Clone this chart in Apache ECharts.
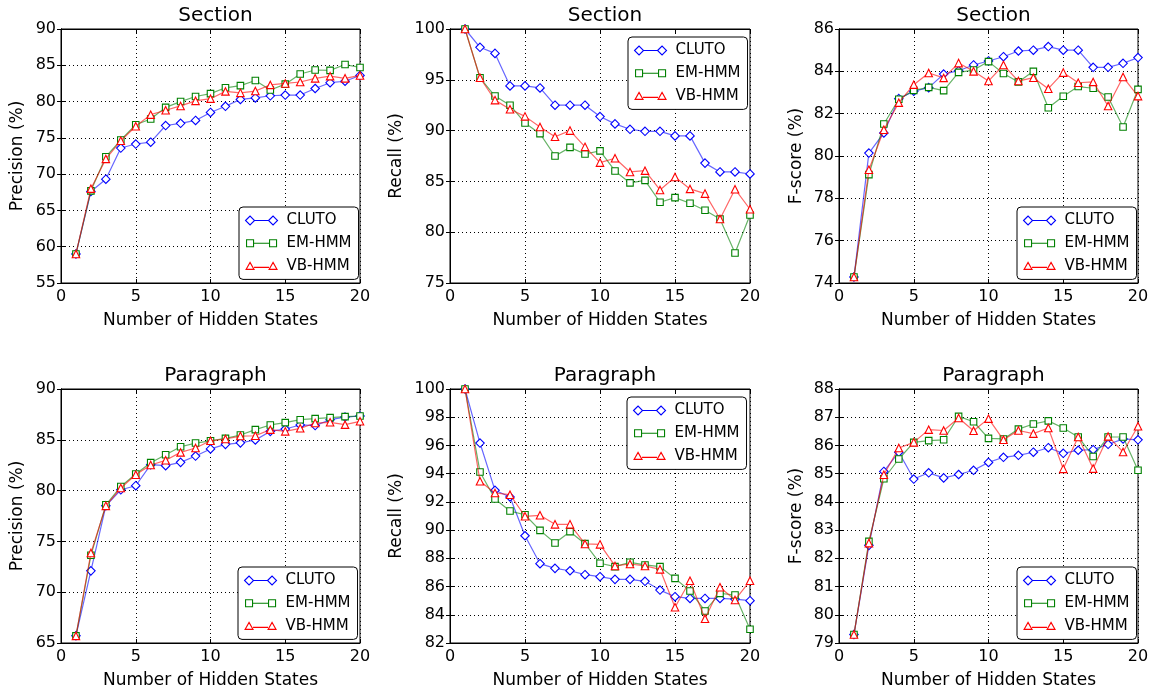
<!DOCTYPE html>
<html>
<head>
<meta charset="utf-8">
<script src="https://cdn.jsdelivr.net/npm/echarts@6/dist/echarts.min.js"></script>
<style>
html,body{margin:0;padding:0;background:#fff;}
#chart{width:1158px;height:695px;}
</style>
</head>
<body>
<div id="chart"></div>
<script>
const states = [1,2,3,4,5,6,7,8,9,10,11,12,13,14,15,16,17,18,19,20];
const methods = ['CLUTO','EM-HMM','VB-HMM'];
const xTicks = [0,5,10,15,20];

const secPrecCLUTO = [59.0, 67.6, 69.3, 73.6, 74.15, 74.4, 76.7, 77.0, 77.4, 78.5, 79.35, 80.3, 80.5, 80.8, 80.9, 80.9, 81.8, 82.6, 82.8, 83.6];
const secPrecEM    = [59.0, 67.7, 72.4, 74.7, 76.8, 77.6, 79.2, 80.0, 80.7, 81.1, 81.9, 82.2, 82.9, 81.6, 82.4, 83.8, 84.35, 84.3, 85.1, 84.7];
const secPrecVB    = [59.0, 68.0, 72.1, 74.6, 76.6, 78.2, 78.8, 79.4, 80.1, 80.4, 81.4, 81.2, 81.45, 82.3, 82.5, 82.7, 83.2, 83.5, 83.2, 83.6];

const secRecCLUTO = [100, 98.2, 97.6, 94.4, 94.4, 94.2, 92.5, 92.5, 92.5, 91.38, 90.66, 90.13, 89.93, 89.93, 89.48, 89.48, 86.8, 85.93, 85.93, 85.73];
const secRecEM    = [100, 95.2, 93.4, 92.5, 90.75, 89.7, 87.5, 88.35, 87.7, 88.0, 86.03, 84.85, 85.1, 82.95, 83.4, 82.85, 82.16, 81.3, 77.96, 81.7];
const secRecVB    = [100, 95.2, 93.0, 92.1, 91.4, 90.35, 89.4, 90.0, 88.4, 86.85, 87.28, 85.93, 86.06, 84.16, 85.44, 84.26, 83.8, 81.3, 84.23, 82.26];

const secFCLUTO = [74.28, 80.14, 81.09, 82.71, 83.06, 83.23, 83.87, 84.03, 84.3, 84.49, 84.69, 84.96, 85.0, 85.17, 85.0, 85.0, 84.19, 84.19, 84.38, 84.65];
const secFEM    = [74.28, 79.12, 81.51, 82.68, 83.1, 83.24, 83.09, 83.95, 84.06, 84.46, 83.9, 83.5, 84.0, 82.28, 82.82, 83.28, 83.2, 82.79, 81.37, 83.15];
const secFVB    = [74.28, 79.35, 81.24, 82.52, 83.37, 83.92, 83.69, 84.39, 84.0, 83.54, 84.3, 83.54, 83.7, 83.18, 83.94, 83.46, 83.5, 82.36, 83.73, 82.83];

const parPrecCLUTO = [65.72, 72.1, 78.5, 80.08, 80.48, 82.55, 82.45, 82.78, 83.4, 84.1, 84.55, 84.7, 84.98, 85.83, 86.06, 86.46, 86.4, 86.98, 87.24, 87.34];
const parPrecEM    = [65.7, 73.63, 78.6, 80.4, 81.63, 82.75, 83.53, 84.32, 84.68, 84.9, 85.14, 85.47, 86.0, 86.46, 86.69, 86.98, 87.08, 87.18, 87.28, 87.34];
const parPrecVB    = [65.7, 73.86, 78.5, 80.25, 81.56, 82.52, 82.98, 83.76, 84.19, 84.9, 85.08, 85.37, 85.4, 86.0, 85.83, 86.13, 86.65, 86.72, 86.49, 86.82];

const parRecCLUTO = [100, 96.17, 92.82, 92.35, 89.6, 87.62, 87.29, 87.12, 86.84, 86.7, 86.51, 86.51, 86.37, 85.75, 85.28, 85.16, 85.16, 85.16, 85.11, 85.0];
const parRecEM    = [100, 94.12, 92.2, 91.35, 91.09, 89.98, 89.09, 89.89, 89.04, 87.65, 87.41, 87.72, 87.53, 87.41, 86.58, 85.68, 84.27, 85.52, 85.4, 82.97];
const parRecVB    = [100, 93.46, 92.63, 92.51, 90.98, 91.05, 90.41, 90.41, 89.02, 88.99, 87.46, 87.6, 87.46, 87.22, 84.53, 86.41, 83.72, 85.95, 85.05, 86.41];

const parFCLUTO = [79.3, 82.46, 85.08, 85.76, 84.81, 85.03, 84.85, 84.97, 85.12, 85.4, 85.58, 85.65, 85.76, 85.92, 85.72, 85.83, 85.85, 86.04, 86.23, 86.2];
const parFEM    = [79.3, 82.6, 84.82, 85.52, 86.11, 86.17, 86.2, 87.03, 86.84, 86.25, 86.23, 86.58, 86.76, 86.87, 86.62, 86.3, 85.61, 86.3, 86.3, 85.12];
const parFVB    = [79.3, 82.54, 84.96, 85.91, 86.11, 86.56, 86.53, 86.97, 86.52, 86.95, 86.2, 86.53, 86.42, 86.62, 85.17, 86.3, 85.18, 86.32, 85.77, 86.68];

const panelTitles = ['Section','Section','Section','Paragraph','Paragraph','Paragraph'];
const yNames = ['Precision (%)','Recall (%)','F-score (%)','Precision (%)','Recall (%)','F-score (%)'];
const yMin = [55, 75, 74, 65, 82, 79];
const yMax = [90, 100, 86, 90, 100, 88];
const yStep = [5, 5, 2, 5, 2, 1];
const panelData = [
  [secPrecCLUTO, secPrecEM, secPrecVB],
  [secRecCLUTO, secRecEM, secRecVB],
  [secFCLUTO, secFEM, secFVB],
  [parPrecCLUTO, parPrecEM, parPrecVB],
  [parRecCLUTO, parRecEM, parRecVB],
  [parFCLUTO, parFEM, parFVB]
];

// layout
const gridLeft = [61, 450, 839, 61, 450, 839];
const gridTop = [29, 29, 29, 389, 389, 389];
const gridW = [299, 300, 299, 299, 300, 299];
const gridH = 254;
const yNameGap = [35, 45, 34, 35, 45, 34];
const legendPos = [[239,207],[628,37],[1017,207],[238,567],[627,397],[1017,567]];

const FONT = 'DejaVu Sans';
const lineColors = ['rgba(0,0,255,0.6)','rgba(0,128,0,0.6)','rgba(255,0,0,0.6)'];
const edgeColors = ['#0000ff','#008000','#ff0000'];
const symbols = ['diamond','rect','triangle'];
const symbolSizes = [8.5, 6.5, 7.5];
// legend icons: marker - line - marker (box 32 x 9)
const legendIcons = [
  'path://M0 0M32 9M0 4.5L4.5 0L9 4.5L4.5 9ZM9 4.5L23 4.5M23 4.5L27.5 0L32 4.5L27.5 9Z',
  'path://M0 0M32 9M1 1L8 1L8 8L1 8ZM8 4.5L24 4.5M24 1L31 1L31 8L24 8Z',
  'path://M0 0M32 9M0.5 8L4.5 1L8.5 8ZM8.5 6L23.5 6M23.5 8L27.5 1L31.5 8Z'
];

const grids=[], xAxes=[], yAxes=[], series=[], titles=[], legends=[];
for (let p=0;p<6;p++){
  grids.push({left:gridLeft[p], top:gridTop[p], width:gridW[p], height:gridH, show:true, borderColor:'#000', borderWidth:1, backgroundColor:'#fff'});
  titles.push({text:panelTitles[p], left:gridLeft[p]+gridW[p]/2, top:gridTop[p]-28, textAlign:'center',
    textStyle:{fontFamily:FONT, fontSize:20, fontWeight:'normal', color:'#000'}});
  xAxes.push({type:'value', gridIndex:p, min:0, max:20, interval:5, position:'bottom',
    name:'Number of Hidden States', nameLocation:'middle', nameGap:29,
    nameTextStyle:{fontFamily:FONT, fontSize:17, color:'#000'},
    axisLine:{show:true, lineStyle:{color:'#000', width:1}},
    axisTick:{show:true, inside:true, length:4, lineStyle:{color:'#000'}},
    axisLabel:{fontFamily:FONT, fontSize:16, color:'#000', margin:6},
    splitLine:{show:true, lineStyle:{color:'#000', width:1, type:[1,3]}}});
  xAxes.push({type:'value', gridIndex:p, min:0, max:20, interval:5, position:'top',
    axisLine:{show:true, lineStyle:{color:'#000', width:1}},
    axisTick:{show:true, inside:true, length:4, lineStyle:{color:'#000'}},
    axisLabel:{show:false}, splitLine:{show:false}});
  yAxes.push({type:'value', gridIndex:p, min:yMin[p], max:yMax[p], interval:yStep[p], position:'left',
    name:yNames[p], nameLocation:'middle', nameGap:yNameGap[p], nameRotate:90,
    nameTextStyle:{fontFamily:FONT, fontSize:17, color:'#000'},
    axisLine:{show:true, lineStyle:{color:'#000', width:1}},
    axisTick:{show:true, inside:true, length:4, lineStyle:{color:'#000'}},
    axisLabel:{fontFamily:FONT, fontSize:16, color:'#000', margin:5},
    splitLine:{show:true, lineStyle:{color:'#000', width:1, type:[1,3]}}});
  yAxes.push({type:'value', gridIndex:p, min:yMin[p], max:yMax[p], interval:yStep[p], position:'right',
    axisLine:{show:true, lineStyle:{color:'#000', width:1}},
    axisTick:{show:true, inside:true, length:4, lineStyle:{color:'#000'}},
    axisLabel:{show:false}, splitLine:{show:false}});
  for (let m=0;m<3;m++){
    series.push({
      type:'line', name:methods[m], xAxisIndex:2*p, yAxisIndex:2*p,
      data: states.map((s,i)=>[s, panelData[p][m][i]]),
      symbol:symbols[m], symbolSize:symbolSizes[m], showAllSymbol:true,
      lineStyle:{color:lineColors[m], width:1.2},
      itemStyle:{color:'#fff', borderColor:edgeColors[m], borderWidth:1.1},
      emphasis:{disabled:true}, animation:false, z:2+m
    });
  }
  legends.push({
    data:methods.map((n,i)=>({name:n, icon:legendIcons[i]})),
    orient:'vertical', left:legendPos[p][0], top:legendPos[p][1],
    backgroundColor:'#fff', borderColor:'#000', borderWidth:1, borderRadius:4,
    padding:[6,7,6,6], itemGap:7.7, itemWidth:32, itemHeight:9,
    itemStyle:{borderWidth:1.1},
    textStyle:{fontFamily:FONT, fontSize:15, color:'#000', lineHeight:14, padding:[0,0,0,4]},
    selectedMode:false, z:10
  });
}

const chart = echarts.init(document.getElementById('chart'), null, {renderer:'canvas'});
chart.setOption({
  backgroundColor:'#fff',
  animation:false,
  title:titles,
  legend:legends,
  grid:grids,
  xAxis:xAxes,
  yAxis:yAxes,
  series:series
});
</script>
</body>
</html>
